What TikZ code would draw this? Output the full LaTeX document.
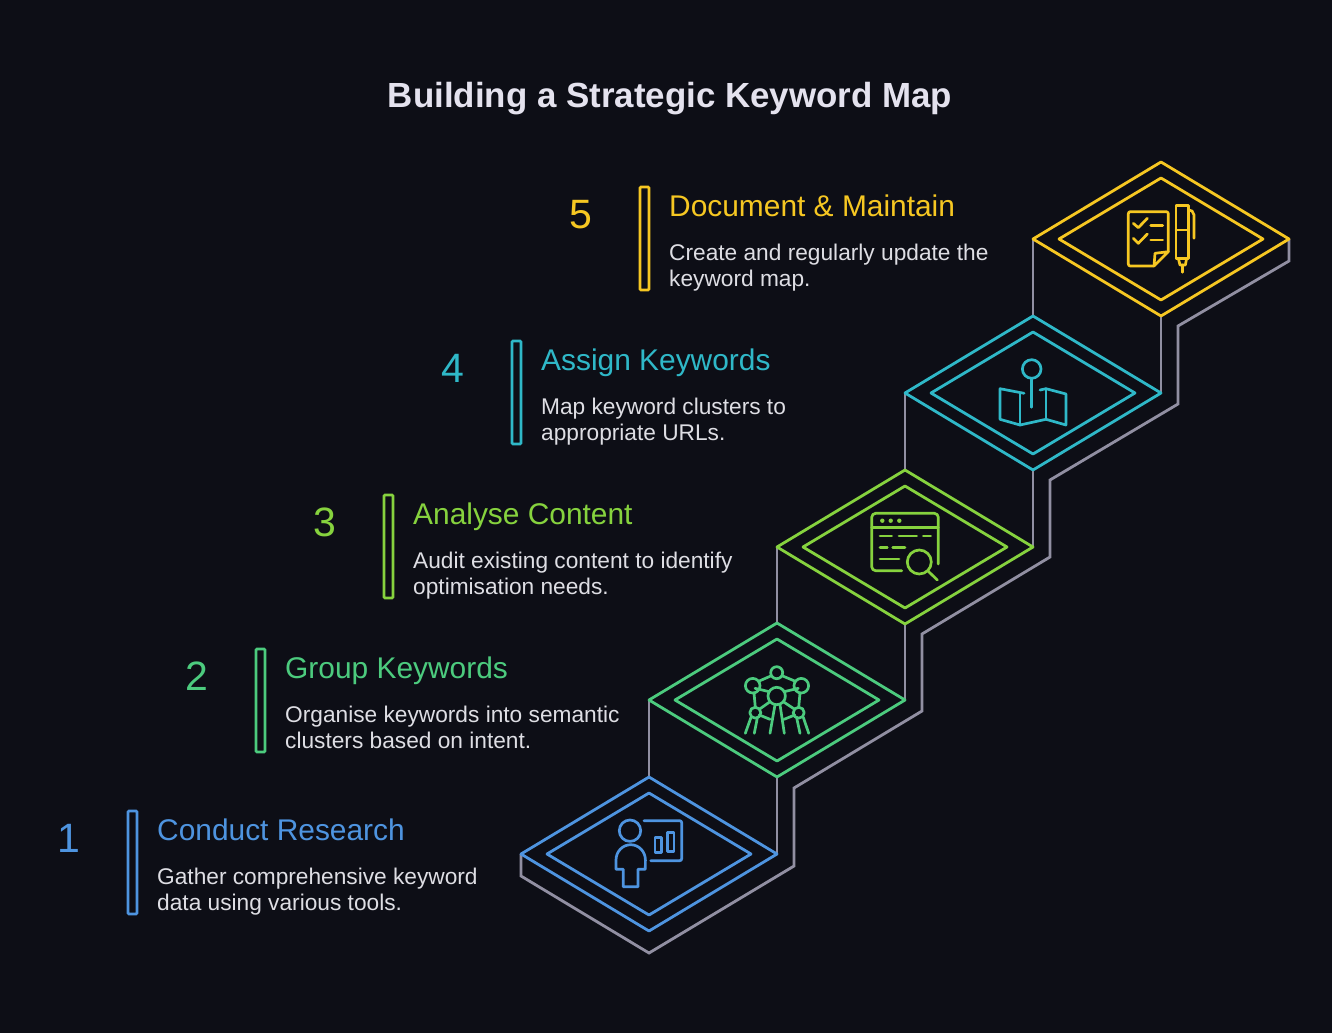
\documentclass[tikz,border=0pt]{standalone}
\usepackage{fontspec}
\setmainfont{Liberation Sans}
\definecolor{pagebg}{HTML}{0D0E16}
\definecolor{titlecol}{HTML}{E4E2EE}
\definecolor{bodycol}{HTML}{DEDEE4}
\definecolor{risercol}{HTML}{918FA2}
\definecolor{stepblue}{HTML}{4E94E0}
\definecolor{stepgreen}{HTML}{4CCB7E}
\definecolor{steplime}{HTML}{86D23E}
\definecolor{stepteal}{HTML}{2FB8C8}
\definecolor{stepyellow}{HTML}{F6C722}
\tikzset{
  tread/.style={line width=2.8pt,line join=round},
  riser/.style={draw=risercol,line width=2.8pt,line join=miter},
  icon/.style={line width=2.7pt,line cap=round,line join=round},
  numlabel/.style={font=\fontsize{41}{41}\selectfont,anchor=base},
  headlabel/.style={font=\fontsize{29.9}{30}\selectfont,anchor=base west},
  bodylabel/.style={font=\fontsize{22.7}{26}\selectfont,text=bodycol,anchor=north west,align=left,inner sep=0pt},
}
\begin{document}
\begin{tikzpicture}[x=1pt,y=-1pt]
\fill[pagebg](0,0)rectangle(1332,1033);
\useasboundingbox(0,0)rectangle(1332,1033);
\node[font=\bfseries\fontsize{34.9}{36}\selectfont,text=titlecol](title) at(670,99){Building a Strategic Keyword Map};
% risers behind the treads
\foreach \i/\cx/\cy in {1/649/854,2/777/700,3/905/547,4/1033/393,5/1161/239}
  \coordinate(c\i) at(\cx,\cy);
\draw[riser](521,854)--(521,876)--(649,953)--(794,866)--(794,788)--(922,711)--(922,634)--(1050,557)--(1050,480)--(1178,404)--(1178,326)--(1289,261)--(1289,239);
\draw[riser](c1)++(0,-77)--++(0,-77);
\draw[riser](c1)++(128,0)--++(0,-77);
\draw[riser](c2)++(0,-77)--++(0,-76);
\draw[riser](c2)++(128,0)--++(0,-77);
\draw[riser](c3)++(0,-77)--++(0,-77);
\draw[riser](c3)++(128,0)--++(0,-77);
\draw[riser](c4)++(0,-77)--++(0,-77);
\draw[riser](c4)++(128,0)--++(0,-77);
% treads
\foreach \i/\col in {1/stepblue,2/stepgreen,3/steplime,4/stepteal,5/stepyellow}{
  \draw[tread,\col](c\i)++(-128,0)--++(128,-77)--++(128,77)--++(-128,77)--cycle;
  \draw[tread,\col](c\i)++(-102,0)--++(102,-61)--++(102,61)--++(-102,61)--cycle;
}
% labels
\foreach \i/\x/\y/\col/\head/\body in {
  1/128/811/stepblue/Conduct Research/{Gather comprehensive keyword\\data using various tools.},
  2/256/649/stepgreen/Group Keywords/{Organise keywords into semantic\\clusters based on intent.},
  3/384/495/steplime/Analyse Content/{Audit existing content to identify\\optimisation needs.},
  4/512/341/stepteal/Assign Keywords/{Map keyword clusters to\\appropriate URLs.},
  5/640/187/stepyellow/Document \& Maintain/{Create and regularly update the\\keyword map.}}{
  \node[numlabel,text=\col](num\i) at(\x-59,\y+41){\i};
  \draw[\col,line width=2.7pt,rounded corners=1pt](\x,\y)rectangle(\x+9,\y+103);
  \node[headlabel,text=\col,inner sep=0pt](head\i) at(\x+29,\y+29){\head};
  \node[bodylabel](body\i) at(\x+29,\y+57){\body};
}
% step 1 icon
\begin{scope}[icon,stepblue]
\draw(630,830.7)circle(10.7);
\draw(623.3,886.7)--(623.3,869.3)--(616,869.3)--(616,860)arc(180:360:14.7 and 15.3)--(645.3,869.3)--(638,869.3)--(638,886.7)--cycle;
\draw[rounded corners=2pt](644,820.7)--(681.7,820.7)--(681.7,860.7)--(650.7,860.7);
\draw(655,837.7)rectangle(661.7,852.7);
\draw(667.3,832.3)rectangle(674,851.7);
\end{scope}
% step 2 icon
\begin{scope}[icon,stepgreen]
\draw(776.7,696)circle(8.7);
\draw(776.7,672.7)circle(6);
\draw(752.7,685.7)circle(7.3);
\draw(801.3,685.7)circle(7.3);
\draw(755.3,712.7)circle(5.5);
\draw(798.7,712.7)circle(5.5);
\draw(770.7,676)--(759.3,681);
\draw(782.7,676)--(794.7,681);
\draw(755,688.3)--(769.3,691.7);
\draw(798.3,688.3)--(784,691.7);
\draw(754,693)--(755.3,707.3);
\draw(800,693)--(798.7,707.3);
\draw(759.3,709.3)--(770,701.7);
\draw(794.7,709.3)--(783.3,701.7);
\draw(751,717.3)--(745.3,733.3);
\draw(757.3,718)--(754.3,733.3);
\draw(775,704.7)--(770,733.3);
\draw(780,704.7)--(784.3,733.3);
\draw(796.7,718)--(800,733.3);
\draw(803.3,717.3)--(808.7,733.3);
\draw(759.3,715)--(770,719.3);
\draw(794.7,715)--(784,719.3);
\end{scope}
% step 3 icon
\begin{scope}[icon,steplime]
\draw[rounded corners=4pt](901.7,570.7)--(871.7,570.7)--(871.7,513.3)--(938.3,513.3)--(938.3,564);
\draw(871.7,527.3)--(938.3,527.3);
\foreach \dx in {882.3,890.7,899.3}
  \fill(\dx,520.7)circle(2.2);
\draw(880,536)--(891.7,536);
\draw(899,536)--(916.7,536);
\draw(923.3,536)--(930.7,536);
\draw(880,547.7)--(887.3,547.7);
\draw(892.7,547.7)--(905,547.7);
\draw(880,559)--(899,559);
\draw(919.3,562)circle(12);
\draw(928,571)--(937.3,580);
\end{scope}
% step 4 icon
\begin{scope}[icon,stepteal]
\draw(1031.7,369)circle(9.3);
\draw(1031.7,378.3)--(1031.7,407.3);
\draw(1024,393.3)--(1000,388.7)--(1000,419.3)--(1020,425)--(1046,419.3)--(1066,425)--(1066,394)--(1046,388.7)--(1040,390);
\draw(1020,394)--(1020,425);
\draw(1046,388.7)--(1046,419.3);
\end{scope}
% step 5 icon
\begin{scope}[icon,stepyellow]
\draw[rounded corners=2pt](1154,266)--(1128.3,266)--(1128.3,211.7)--(1168.3,211.7)--(1168.3,251.7);
\draw(1168.3,251.7)--(1154,266)--(1155,253.3)--cycle;
\draw(1133.3,223.3)--(1138.3,227.7)--(1147.3,218.3);
\draw(1133.3,238.3)--(1138.3,243.3)--(1147.3,234);
\draw(1150.7,225.7)--(1162.7,225.7);
\draw(1150.7,240)--(1162.7,240);
\draw(1176,205.7)rectangle(1188.7,258.3);
\draw(1176,230)--(1188.7,230);
\draw(1188.7,210)--(1192,211)--(1194,215)--(1194,238.3);
\draw(1178.3,258.3)--(1180,265)--(1185.3,265)--(1186.7,258.3);
\draw(1182.7,265)--(1182.7,272.3);
\end{scope}
\end{tikzpicture}
\end{document}
